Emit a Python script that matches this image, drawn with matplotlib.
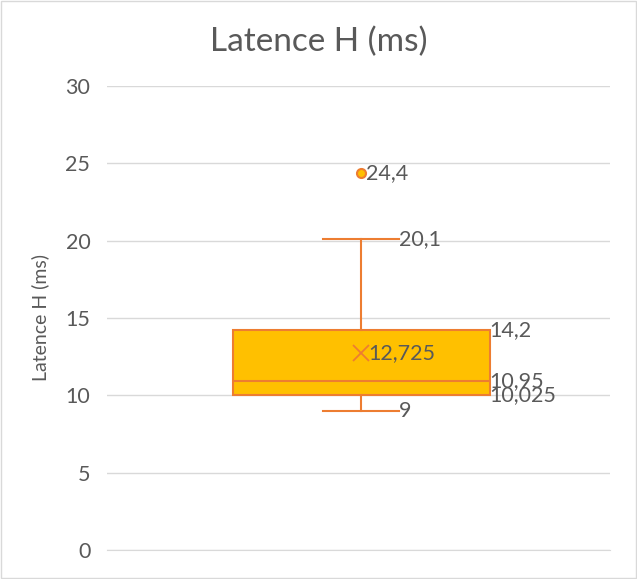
import matplotlib.pyplot as plt
from matplotlib.patches import Rectangle

# statistiques de la boite
q1 = 10.025
median = 10.95
q3 = 14.2
mean = 12.725
whisker_low = 9
whisker_high = 20.1
outliers = [24.4]

title = 'Latence H (ms)'
y_ticks = [0, 5, 10, 15, 20, 25, 30]

orange = '#ED7D31'
gold = '#FFC000'
grey_text = '#595959'

plt.rcParams['font.family'] = ['Lato', 'DejaVu Sans']

fig = plt.figure(figsize=(6.37, 5.79), dpi=100)
fig.patches.append(Rectangle((0.002, 0.002), 0.996, 0.996, transform=fig.transFigure,
                             fill=False, edgecolor='#D9D9D9', linewidth=1))
ax = fig.add_axes([0.168, 0.0501, 0.79, 0.8014])

stats = [{'q1': q1, 'med': median, 'q3': q3, 'mean': mean,
          'whislo': whisker_low, 'whishi': whisker_high, 'fliers': outliers}]
pos = 0.505
ax.bxp(stats, positions=[pos], widths=0.511, patch_artist=True, showmeans=True,
       capwidths=0.151,
       boxprops=dict(facecolor=gold, edgecolor=orange, linewidth=1.5),
       medianprops=dict(color=orange, linewidth=1.5),
       whiskerprops=dict(color=orange, linewidth=1.5),
       capprops=dict(color=orange, linewidth=1.5),
       meanprops=dict(marker='x', markeredgecolor=orange, markersize=12, markeredgewidth=1.3),
       flierprops=dict(marker='o', markerfacecolor=gold, markeredgecolor=orange,
                       markersize=6.5, markeredgewidth=1.5),
       zorder=3)

ax.set_xlim(0, 1)
ax.set_ylim(0, 30)
ax.set_yticks(y_ticks)
ax.set_xticks([])
ax.grid(axis='y', color='#D9D9D9', linewidth=1, zorder=0)
for side in ['top', 'right', 'left']:
    ax.spines[side].set_visible(False)
ax.spines['bottom'].set_color('#D9D9D9')
ax.tick_params(axis='y', length=0, labelsize=15.5, labelcolor=grey_text, pad=12)
ax.set_ylabel(title, fontsize=14, color=grey_text, labelpad=12)
fig.text(0.5, 0.927, title, fontsize=24, color=grey_text, ha='center', va='center')


def fr(v):
    return ('%g' % v).replace('.', ',')


lab = dict(fontsize=15.5, color=grey_text, va='center', ha='left', zorder=5)
half_box = 0.511 / 2
half_cap = 0.151 / 2
ax.text(pos + 0.01, outliers[0], fr(outliers[0]), **lab)
ax.text(pos + half_cap, whisker_high, fr(whisker_high), **lab)
ax.text(pos + half_cap, whisker_low, fr(whisker_low), **lab)
ax.text(pos + half_box, q3, fr(q3), **lab)
ax.text(pos + half_box, median, fr(median), **lab)
ax.text(pos + half_box, q1, fr(q1), **lab)
ax.text(pos + 0.015, mean, fr(mean), **lab)

fig.savefig('out.png', dpi=100)
